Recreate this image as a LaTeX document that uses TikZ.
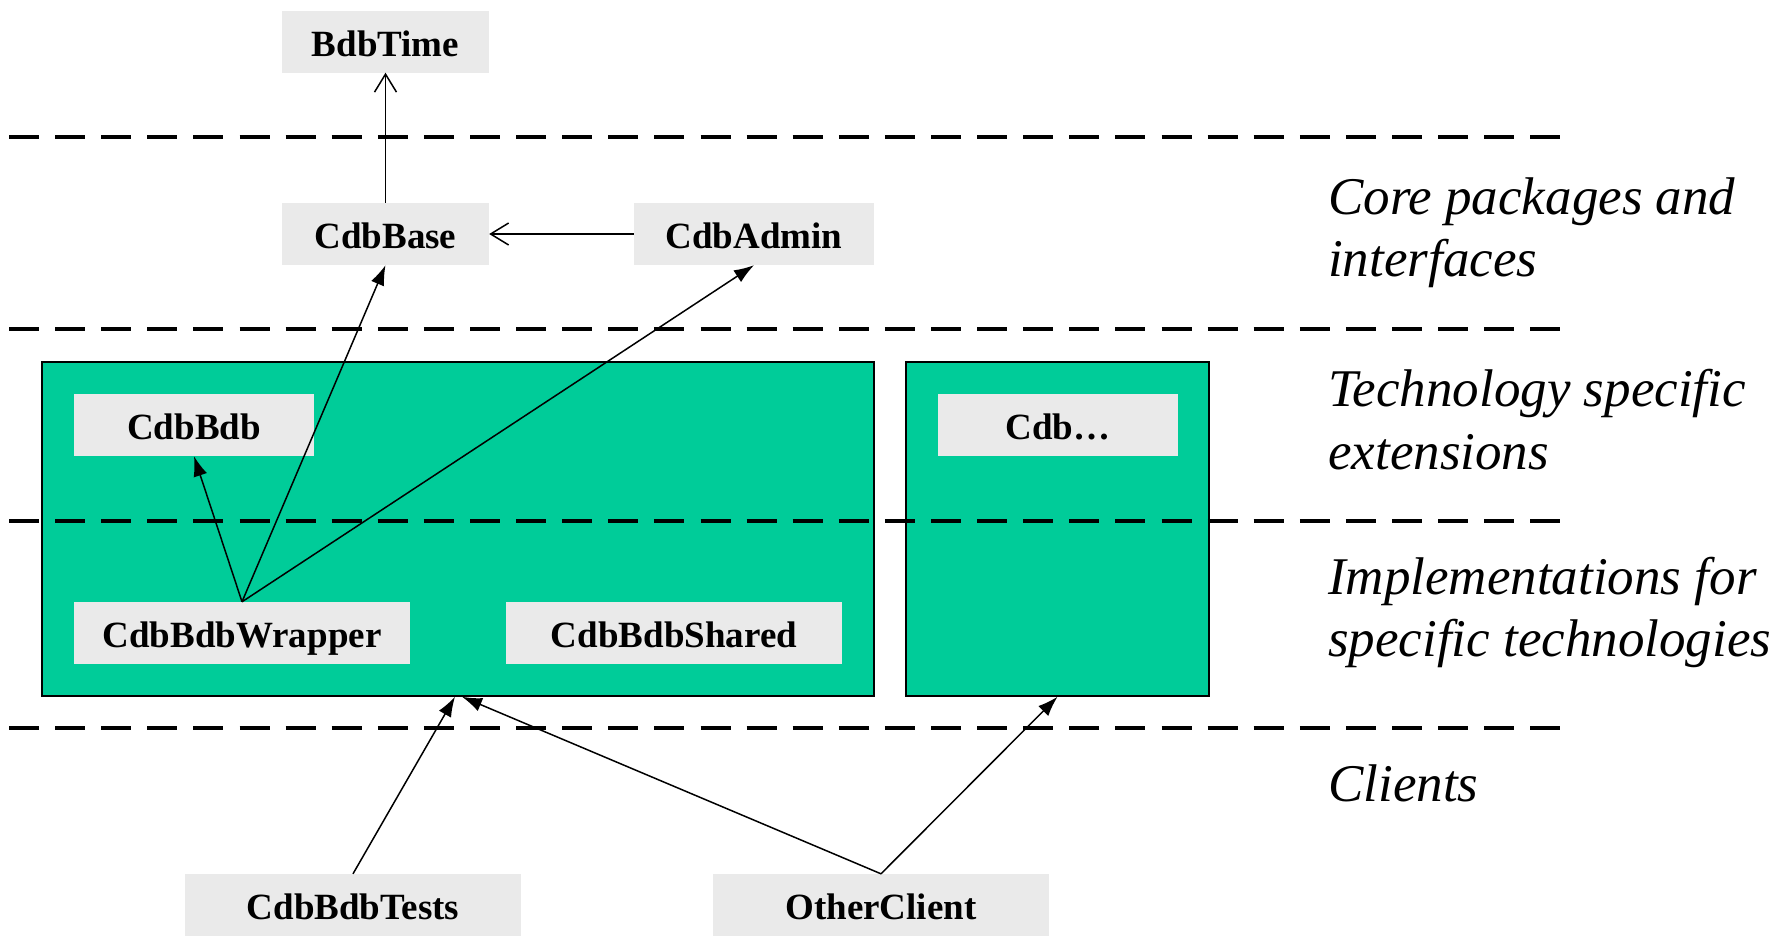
\documentclass[tikz,border=0pt]{standalone}
\usepackage{fontspec}
\setmainfont{Liberation Serif}
\usetikzlibrary{arrows.meta}
\definecolor{layergreen}{RGB}{0,204,153}
\definecolor{pkggray}{RGB}{234,234,234}

\begin{document}
\begin{tikzpicture}[x=1pt,y=-1pt,
  pkg/.style={fill=pkggray, minimum height=62pt, inner sep=0pt,
    text height=29pt, text depth=0pt,
    font=\bfseries\fontsize{37}{44}\selectfont},
  group/.style={draw=black, line width=1.5pt, fill=layergreen, inner sep=0pt},
  layer/.style={line width=4pt, dash pattern=on 30pt off 16.1pt},
  uses/.style={line width=1.5pt, -{Latex[length=20pt,width=14pt]}},
  dep/.style={line width=1.5pt, -{Straight Barb[length=18pt,width=22pt]}},
  caption/.style={anchor=base west, align=left, inner sep=0pt,
    font=\itshape\fontsize{53}{62.5}\selectfont}]

\useasboundingbox (0,0) rectangle (1784,935);

% technology groups
\node[group, minimum width=832pt, minimum height=334pt] (tech) at (458,529) {};
\node[group, minimum width=303pt, minimum height=334pt] (other) at (1057.5,529) {};

% layer separators
\draw[layer] (9,136.5) -- (1561,136.5);
\draw[layer] (9,329) -- (1561,329);
\draw[layer] (9,521) -- (1561,521);
\draw[layer] (9,728) -- (1561,728);

% packages
\node[pkg, minimum width=207pt] (bdbtime) at (385.5,41.5) {BdbTime};
\node[pkg, minimum width=207pt] (cdbbase) at (385.5,234) {CdbBase};
\node[pkg, minimum width=240pt] (cdbadmin) at (754,234) {CdbAdmin};
\node[pkg, minimum width=240pt] (cdbbdb) at (194,425) {CdbBdb};
\node[pkg, minimum width=240pt] (cdbetc) at (1058,425) {Cdb…};
\node[pkg, minimum width=336pt] (wrapper) at (242,633) {CdbBdbWrapper};
\node[pkg, minimum width=336pt] (shared) at (674,633) {CdbBdbShared};
\node[pkg, minimum width=336pt] (tests) at (353,905) {CdbBdbTests};
\node[pkg, minimum width=336pt] (otherclient) at (881,905) {OtherClient};

% dependencies
\draw[dep] (cdbbase) -- (bdbtime);
\draw[dep] (cdbadmin) -- (cdbbase);
\draw[uses] (wrapper.north) -- (cdbbdb.south);
\draw[uses] (wrapper.north) -- (cdbbase.south);
\draw[uses] (wrapper.north) -- (cdbadmin.south);
\draw[uses] (tests.north) -- ([xshift=-3pt]tech.south);
\draw[uses] (otherclient.north) -- ([xshift=4pt]tech.south);
\draw[uses] (otherclient.north) -- (other.south);

% layer captions (anchored on the baseline of their last line)
\node[caption] (core) at (1328,276.5) {Core packages and\\interfaces};
\node[caption] (ext) at (1328,469) {Technology specific\\extensions};
\node[caption] (impl) at (1328,656.5) {Implementations for\\specific technologies};
\node[caption] (clients) at (1328,801) {Clients};
\end{tikzpicture}
\end{document}
